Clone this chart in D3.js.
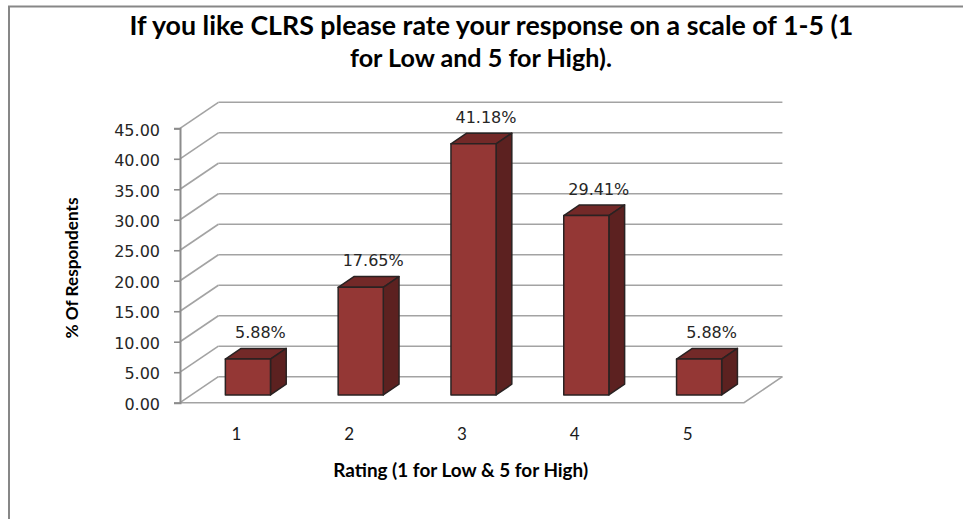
<!DOCTYPE html>
<html>
<head>
<meta charset="utf-8">
<script src="https://cdn.jsdelivr.net/npm/d3@7"></script>
<style>
  html, body { margin: 0; padding: 0; background: #fff; }
  svg { display: block; }
</style>
</head>
<body>
<svg id="chart" width="963" height="519"></svg>
<script>
// ---- data ----
const categories = ["1", "2", "3", "4", "5"];
const values = [5.88, 17.65, 41.18, 29.41, 5.88];
const yTicks = [0, 5, 10, 15, 20, 25, 30, 35, 40, 45];
const titleLines = ["If you like CLRS please rate your response on a scale of 1-5 (1", "for Low and 5 for High)."];
const xTitle = "Rating (1 for Low & 5 for High)";
const yTitle = "% Of Respondents";

// ---- layout ----
const svg = d3.select("#chart");
const W = 963, H = 519;
const depthX = 38.4, depthY = 26;
const barZ0 = 0.3, barZ1 = 0.71;

const x = d3.scaleBand().domain(categories).range([180, 744]).paddingInner(0.6).paddingOuter(0.3);
const y = d3.scaleLinear().domain([0, 45]).range([402.7, 128.3]);

const P = (px, py, z) => [px + z * depthX, py - z * depthY];
const poly = pts => pts.map(p => p.join(",")).join(" ");

function fit(sel, target) {
  const n = sel.node();
  const fs = parseFloat(sel.attr("font-size"));
  const w = n.getComputedTextLength();
  sel.attr("font-size", (fs * target / w).toFixed(2));
}

svg.append("rect").attr("width", W).attr("height", H).attr("fill", "#fff");

// outer frame
svg.append("path").attr("d", `M9,${H} L9,6.5 L${W},6.5`)
  .attr("fill", "none").attr("stroke", "#878787").attr("stroke-width", 2);

// title
const tAttrs = [{x: 129.5, y: 35, w: 724}, {x: 350, y: 66.7, w: 262}];
titleLines.forEach((t, i) => {
  const s = svg.append("text").attr("x", tAttrs[i].x).attr("y", tAttrs[i].y)
    .attr("font-family", "Lato, 'Open Sans', sans-serif").attr("font-weight", "bold")
    .attr("font-size", 22).attr("fill", "#000").text(t);
  fit(s, tAttrs[i].w);
});

const grid = svg.append("g");
const x0 = x.range()[0], x1 = x.range()[1];
// gridlines: left wall diagonals + back wall horizontals
yTicks.forEach(v => {
  const yy = y(v);
  const back = P(x0, yy, 1), backR = P(x1, yy, 1);
  grid.append("line").attr("x1", x0).attr("y1", yy).attr("x2", back[0]).attr("y2", back[1])
    .attr("stroke", "#a3a3a3").attr("stroke-width", 1.6);
  grid.append("line").attr("x1", back[0]).attr("y1", back[1]).attr("x2", backR[0]).attr("y2", backR[1])
    .attr("stroke", "#a3a3a3").attr("stroke-width", 1.6);
});
// floor front and right edges
const fr = P(x1, y(0), 1);
grid.append("path").attr("d", `M${x0},${y(0)} L${x1},${y(0)} L${fr[0]},${fr[1]}`)
  .attr("fill", "none").attr("stroke", "#a3a3a3").attr("stroke-width", 1.6);

// y axis
const axis = svg.append("g").attr("transform", `translate(${x0},0)`)
  .call(d3.axisLeft(y).tickValues(yTicks).tickFormat(d3.format(".2f")).tickSize(6).tickPadding(14));
axis.select(".domain").attr("stroke", "#8c8c8c").attr("stroke-width", 2);
axis.selectAll(".tick line").attr("stroke", "#8c8c8c").attr("stroke-width", 1.6);
axis.selectAll(".tick text").attr("font-family", "'DejaVu Sans', Verdana, sans-serif")
  .attr("font-size", 16).attr("fill", "#262626").attr("dy", "0.42em");

// category labels
svg.append("g").selectAll("text").data(categories).join("text")
  .attr("x", d => x(d) + x.bandwidth() / 2).attr("y", 440)
  .attr("text-anchor", "middle").attr("font-family", "Lato, 'Open Sans', sans-serif")
  .attr("font-size", 17).attr("fill", "#1a1a1a").text(d => d);

// bars
const bars = svg.append("g");
categories.forEach((c, i) => {
  const v = values[i];
  const bx0 = x(c), bx1 = x(c) + x.bandwidth();
  const yv = y(v), y0 = y(0);
  const g = bars.append("g");
  // top
  g.append("polygon").attr("points", poly([P(bx0, yv, barZ0), P(bx1, yv, barZ0), P(bx1, yv, barZ1), P(bx0, yv, barZ1)]))
    .attr("fill", "#732928").attr("stroke", "#2a2222").attr("stroke-width", 1.5).attr("stroke-linejoin", "round");
  // side
  g.append("polygon").attr("points", poly([P(bx1, y0, barZ0), P(bx1, yv, barZ0), P(bx1, yv, barZ1), P(bx1, y0, barZ1)]))
    .attr("fill", "#5c2120").attr("stroke", "#2a2222").attr("stroke-width", 1.5).attr("stroke-linejoin", "round");
  // front
  g.append("polygon").attr("points", poly([P(bx0, y0, barZ0), P(bx1, y0, barZ0), P(bx1, yv, barZ0), P(bx0, yv, barZ0)]))
    .attr("fill", "#943735").attr("stroke", "#2a2222").attr("stroke-width", 1.5).attr("stroke-linejoin", "round");
});

// value labels
svg.append("g").selectAll("text").data(categories).join("text")
  .attr("x", (d) => x(d) + x.bandwidth() / 2 + 24)
  .attr("y", (d, i) => y(values[i]) - 28.7)
  .attr("text-anchor", "middle").attr("font-family", "'DejaVu Sans', Verdana, sans-serif")
  .attr("font-size", 16).attr("fill", "#262626")
  .text((d, i) => values[i].toFixed(2) + "%");

// axis titles
const xt = svg.append("text").attr("x", 460.7).attr("y", 476.7).attr("text-anchor", "middle")
  .attr("font-family", "Lato, 'Open Sans', sans-serif").attr("font-weight", "bold")
  .attr("font-size", 15).attr("fill", "#000").text(xTitle);
fit(xt, 255);
const yt = svg.append("text").attr("transform", "translate(78,268) rotate(-90)").attr("text-anchor", "middle")
  .attr("font-family", "Lato, 'Open Sans', sans-serif").attr("font-weight", "bold")
  .attr("font-size", 15).attr("fill", "#000").text(yTitle);
fit(yt, 141);
</script>
</body>
</html>
